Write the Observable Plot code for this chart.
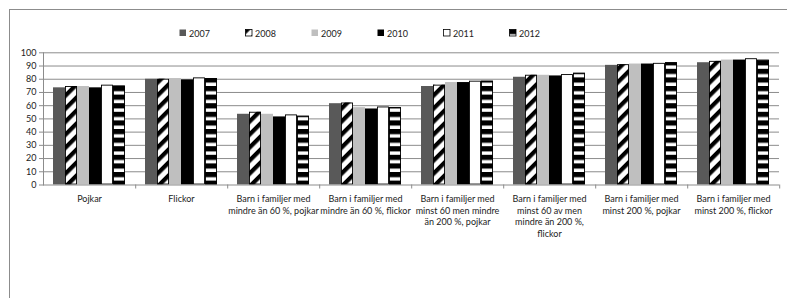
<!DOCTYPE html>
<html>
<head>
<meta charset="utf-8">
<script src="https://cdn.jsdelivr.net/npm/d3@7"></script>
<script src="https://cdn.jsdelivr.net/npm/@observablehq/plot@0.6"></script>
<style>
  html, body { margin: 0; padding: 0; background: #fff; overflow: hidden; }
  #wrap { position: relative; width: 787px; height: 298px; font-family: Lato, "Liberation Sans", sans-serif; }
  #box { position: absolute; left: 9px; top: 9px; width: 800px; height: 300px; border: 1px solid #8c8c8c; box-sizing: border-box; pointer-events: none; }
  #legend { position: absolute; left: 179px; top: 27px; display: flex; font-size: 9px; color: #222; }
  #legend .item { width: 66px; display: flex; align-items: center; height: 12px; }
  #legend svg { margin-right: 2px; }
  #chart { position: absolute; left: 0; top: 0; }
</style>
</head>
<body>
<svg width="0" height="0" style="position:absolute">
  <defs>
    <pattern id="pat2008" patternUnits="userSpaceOnUse" width="9.2" height="9.2" patternTransform="rotate(45)">
      <rect width="9.2" height="9.2" fill="#fff"></rect>
      <rect width="4.2" height="9.2" fill="#000"></rect>
    </pattern>
    <pattern id="pat2012" patternUnits="userSpaceOnUse" width="8" height="8.6">
      <rect width="8" height="8.6" fill="#fff"></rect>
      <rect width="8" height="5.2" fill="#000"></rect>
    </pattern>
  </defs>
</svg>
<div id="wrap">
  <div id="chart"></div>
  <div id="legend"></div>
  <div id="box"></div>
</div>
<script>
const years = ["2007", "2008", "2009", "2010", "2011", "2012"];
const categories = [
  "Pojkar",
  "Flickor",
  "Barn i familjer med mindre än 60 %, pojkar",
  "Barn i familjer med mindre än 60 %, flickor",
  "Barn i familjer med minst 60 men mindre än 200 %, pojkar",
  "Barn i familjer med minst 60 av men mindre än 200 %, flickor",
  "Barn i familjer med minst 200 %, pojkar",
  "Barn i familjer med minst 200 %, flickor"
];
const categoryLabels = [
  "Pojkar",
  "Flickor",
  "Barn i familjer med\nmindre än 60 %, pojkar",
  "Barn i familjer med\nmindre än 60 %, flickor",
  "Barn i familjer med\nminst 60 men mindre\nän 200 %, pojkar",
  "Barn i familjer med\nminst 60 av men\nmindre än 200 %,\nflickor",
  "Barn i familjer med\nminst 200 %, pojkar",
  "Barn i familjer med\nminst 200 %, flickor"
];
const v2007 = [73.5, 80, 53.5, 61.5, 74.5, 81.5, 90.5, 92.5];
const v2008 = [74.5, 80, 55, 62, 75.5, 83, 91, 93.5];
const v2009 = [74.5, 80.5, 53.5, 58.5, 77.5, 83, 91.5, 94.5];
const v2010 = [73.5, 79.5, 51.5, 57.5, 77.5, 82.5, 91.5, 94.5];
const v2011 = [75.5, 81, 53, 59, 78.5, 83.5, 92, 95.5];
const v2012 = [75, 80.5, 52, 58.5, 78.5, 84.5, 92.5, 94.5];
const yTicks = [0, 10, 20, 30, 40, 50, 60, 70, 80, 90, 100];

const seriesFills = ["#595959", "url(#pat2008)", "#bfbfbf", "#000000", "#ffffff", "url(#pat2012)"];
const outlined = ["2008", "2011", "2012"];

const series = [v2007, v2008, v2009, v2010, v2011, v2012];
const data = [];
categories.forEach((c, i) => {
  years.forEach((y, j) => data.push({category: c, year: y, value: series[j][i]}));
});

const W = 787, H = 298;
const mL = 41, mR = 7, mT = 52.3, mB = 113.5;
const halfFacet = (W - mL - mR) / categories.length / 2;
const grey = "#8c8c8c";

const chart = Plot.plot({
  width: W,
  height: H,
  marginLeft: mL,
  marginRight: mR,
  marginTop: mT,
  marginBottom: mB,
  style: {fontFamily: "Lato, 'Liberation Sans', sans-serif", fontSize: "9px", color: "#222", background: "transparent", overflow: "visible"},
  fx: {domain: categories, padding: 0, axis: null, label: null},
  x: {domain: years, paddingInner: 0, paddingOuter: 0.77, axis: null, label: null},
  y: {domain: [0, 100], axis: null, label: null},
  color: {domain: years, range: seriesFills},
  marks: [
    Plot.gridY(yTicks.filter(t => t > 0), {stroke: grey, strokeOpacity: 1, strokeWidth: 1}),
    Plot.barY(data, {fx: "category", x: "year", y: "value", fill: "year", inset: 0}),
    Plot.barY(data.filter(d => outlined.includes(d.year)), {fx: "category", x: "year", y: "value", fill: "none", stroke: "#000", strokeWidth: 0.9, inset: 0.45}),
    Plot.ruleY([0], {stroke: grey, strokeWidth: 1}),
    Plot.frame({anchor: "left", facet: "super", stroke: grey, strokeWidth: 1}),
    Plot.axisY({ticks: yTicks, tickSize: 4, tickPadding: 3, stroke: grey, label: null, fill: "#222"}),
    Plot.axisFx({anchor: "bottom", tickSize: 4, dx: halfFacet, tickFormat: () => "", stroke: grey, label: null}),
    Plot.axisFx({anchor: "bottom", tickSize: 0, tickPadding: 9, lineHeight: 1.28, tickFormat: c => categoryLabels[categories.indexOf(c)], label: null, fill: "#222"})
  ]
});
document.getElementById("chart").appendChild(chart);

const legend = document.getElementById("legend");
years.forEach((y, j) => {
  const item = document.createElement("div");
  item.className = "item";
  const stroke = outlined.includes(y) ? "#000" : "none";
  item.innerHTML = `<svg width="8" height="8"><rect x="0.5" y="0.5" width="6.5" height="6.5" fill="${seriesFills[j]}" stroke="${stroke}" stroke-width="0.8"></rect></svg><span>${y}</span>`;
  legend.appendChild(item);
});
</script>
</body>
</html>
